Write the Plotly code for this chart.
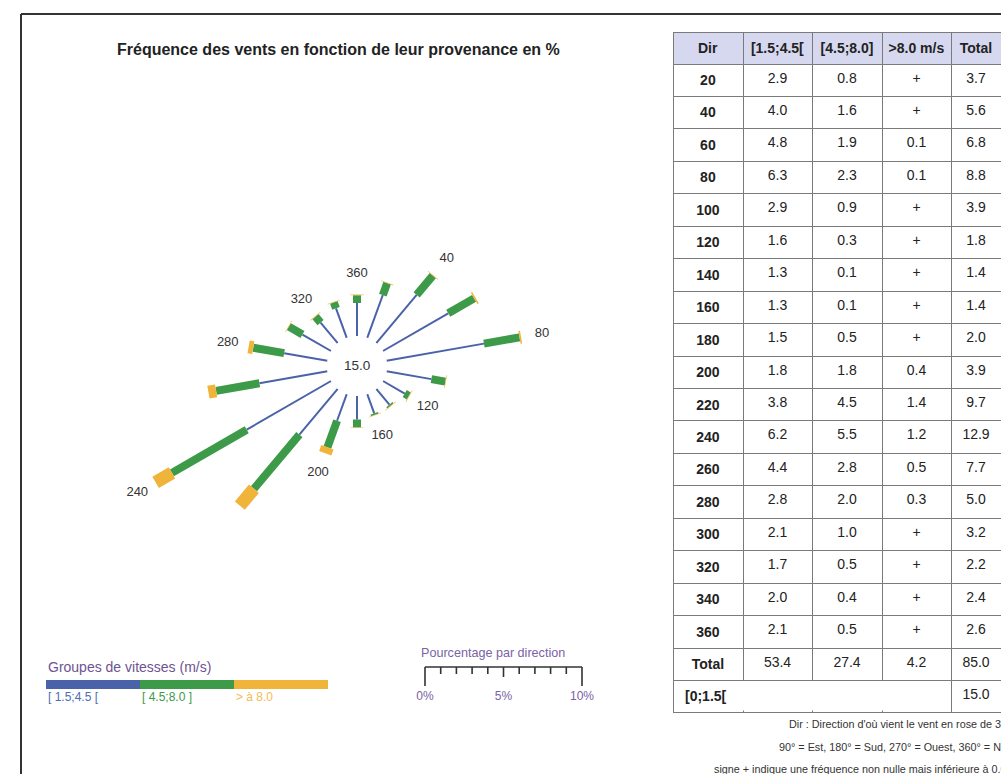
import plotly.graph_objects as go

# ---------------- data ----------------
directions = [20, 40, 60, 80, 100, 120, 140, 160, 180,
              200, 220, 240, 260, 280, 300, 320, 340, 360]
freq_low = [2.9, 4.0, 4.8, 6.3, 2.9, 1.6, 1.3, 1.3, 1.5,
            1.8, 3.8, 6.2, 4.4, 2.8, 2.1, 1.7, 2.0, 2.1]
freq_mid = [0.8, 1.6, 1.9, 2.3, 0.9, 0.3, 0.1, 0.1, 0.5,
            1.8, 4.5, 5.5, 2.8, 2.0, 1.0, 0.5, 0.4, 0.5]
freq_high = ["+", "+", "0.1", "0.1", "+", "+", "+", "+", "+",
             "0.4", "1.4", "1.2", "0.5", "0.3", "+", "+", "+", "+"]
freq_total = [3.7, 5.6, 6.8, 8.8, 3.9, 1.8, 1.4, 1.4, 2.0,
              3.9, 9.7, 12.9, 7.7, 5.0, 3.2, 2.2, 2.4, 2.6]
class_totals = ["53.4", "27.4", "4.2", "85.0"]
calm_label = "[0;1.5["
calm_value = 15.0

labelled_dirs = [40, 80, 120, 160, 200, 240, 280, 320, 360]
table_header = ["Dir", "[1.5;4.5[", "[4.5;8.0]", ">8.0 m/s", "Total"]
speed_classes = ["[ 1.5;4.5 [", "[ 4.5;8.0 ]", "> à 8.0"]
scale_ticks = [0, 5, 10]
notes = [
    "Dir : Direction d'où vient le vent en rose de 360°",
    "90° = Est, 180° = Sud, 270° = Ouest, 360° = Nord",
    "signe + indique une fréquence non nulle mais inférieure à 0.05 %",
]

title = "Fréquence des vents en fonction de leur provenance en %"
legend_title = "Groupes de vitesses (m/s)"
scale_title = "Pourcentage par direction"

# "+" = non-zero but below 0.05 %: drawn as a very short cap
PLUS_VALUE = 0.04

# ---------------- styling / geometry ----------------
W, H = 1001, 774
FONT = "Liberation Sans, Arial, sans-serif"
BLUE, GREEN, ORANGE = "#4a62a8", "#3c9a48", "#f1b43a"
PURPLE = "#6d5391"

CX, CY = 357, 366          # rose centre (px)
R_PX = 300                 # polar radius (px)
HOLE_PX = 30               # empty centre (px)
PX_PER_PCT = 15.7          # length of 1 % on the rose
HOLE = HOLE_PX / R_PX
RMAX = (R_PX - HOLE_PX) / PX_PER_PCT
LABEL_GAP = 1.35           # % beyond spoke end for direction labels


def px(x):
    return x / W


def py(y):
    return 1 - y / H


high_num = [PLUS_VALUE if v == "+" else float(v) for v in freq_high]
end_low = freq_low
end_mid = [a + b for a, b in zip(freq_low, freq_mid)]
end_high = [a + b for a, b in zip(end_mid, high_num)]


def spoke_trace(starts, ends, color, width):
    r, th = [], []
    for d, a, b in zip(directions, starts, ends):
        if b > a:
            r += [a, b, None]
            th += [d, d, None]
    return go.Scatterpolar(r=r, theta=th, mode="lines", connectgaps=False,
                           line=dict(color=color, width=width),
                           hoverinfo="skip", showlegend=False)


fig = go.Figure()
fig.add_trace(spoke_trace([0] * len(directions), end_low, BLUE, 2))
fig.add_trace(spoke_trace(end_low, end_mid, GREEN, 8))
fig.add_trace(spoke_trace(end_mid, end_high, ORANGE, 13))

lab_r = [end_high[directions.index(d)] + LABEL_GAP for d in labelled_dirs]
fig.add_trace(go.Scatterpolar(
    r=lab_r, theta=labelled_dirs, mode="text", text=[str(d) for d in labelled_dirs],
    textfont=dict(family=FONT, size=13, color="#333333"),
    cliponaxis=False, hoverinfo="skip", showlegend=False))

# ---------------- percentage scale (0-10 %) ----------------
SCALE_X0 = 425
scale_x, scale_y = [0, 10, None], [0, 0, None]
for i in range(11):
    depth = 19 if i in (0, 10) else (10 if i == 5 else 7)
    scale_x += [i, i, None]
    scale_y += [0, -depth, None]
fig.add_trace(go.Scatter(x=scale_x, y=scale_y, mode="lines", xaxis="x", yaxis="y",
                         line=dict(color="#333333", width=1.6),
                         hoverinfo="skip", showlegend=False))
fig.add_trace(go.Scatter(x=scale_ticks, y=[-30] * len(scale_ticks), mode="text",
                         text=[f"{t}%" for t in scale_ticks], xaxis="x", yaxis="y",
                         textfont=dict(family=FONT, size=12, color="#7a62a3"),
                         cliponaxis=False, hoverinfo="skip", showlegend=False))

# ---------------- table ----------------
TABLE_X0 = 673
COL_W = [70, 69, 70, 69, 50]
TABLE_Y0 = 32
HEADER_H = 31
ROW_H = 32.45
n_rows = len(directions) + 2

col_dir = [f"<b>{d}</b>" for d in directions] + ["<b>Total</b>", ""]
col_low = [f"{v:.1f}" for v in freq_low] + [class_totals[0], ""]
col_mid = [f"{v:.1f}" for v in freq_mid] + [class_totals[1], ""]
col_high = list(freq_high) + [class_totals[2], ""]
col_tot = [f"{v:.1f}" for v in freq_total] + [class_totals[3], f"{calm_value:.1f}"]

fig.add_trace(go.Table(
    domain=dict(x=[px(TABLE_X0), 1], y=[py(760), py(TABLE_Y0)]),
    columnwidth=COL_W,
    header=dict(values=["<b>" + h.replace(" ", "\u00a0") + "</b>" for h in table_header],
                fill_color="#d5d8ef", line=dict(color="#7a7a7a", width=1),
                align="center", height=HEADER_H,
                font=dict(family=FONT, size=14, color="#222222")),
    cells=dict(values=[col_dir, col_low, col_mid, col_high, col_tot],
               fill_color="white", line=dict(color="#7a7a7a", width=1),
               align="center", height=ROW_H,
               font=dict(family=FONT, size=14, color="#222222")),
))

shapes = []
annotations = []

# merged cell for the calm row
calm_top = TABLE_Y0 + HEADER_H + ROW_H * (n_rows - 1)
shapes.append(dict(type="rect", xref="paper", yref="paper", layer="above",
                   x0=px(TABLE_X0 + 1.5), x1=px(TABLE_X0 + sum(COL_W[:4]) - 1.5),
                   y0=py(calm_top + ROW_H - 1.5), y1=py(calm_top + 1.5),
                   fillcolor="white", line=dict(width=0)))
annotations.append(dict(x=px(TABLE_X0 + 10), y=py(calm_top + ROW_H / 2), xref="paper",
                        yref="paper", xanchor="left", yanchor="middle", showarrow=False,
                        text=f"<b>{calm_label}</b>",
                        font=dict(family=FONT, size=14, color="#222222")))

# notes under the table
for i, (txt, x0) in enumerate(zip(notes, [787, 777, 712])):
    annotations.append(dict(x=px(x0), y=py(724 + 22.5 * i), xref="paper", yref="paper",
                            xanchor="left", yanchor="middle", showarrow=False, text=txt,
                            font=dict(family=FONT, size=10.8, color="#333333")))

# frame lines
shapes.append(dict(type="line", xref="paper", yref="paper", x0=px(21), x1=1.0,
                   y0=py(14), y1=py(14), line=dict(color="#333333", width=2)))
shapes.append(dict(type="line", xref="paper", yref="paper", x0=px(21), x1=px(21),
                   y0=py(14), y1=0, line=dict(color="#333333", width=2)))

# speed class colour bar
BAR_X0, BAR_W, BAR_Y0, BAR_Y1 = 46, 94, 680, 689
for i, (col, lab, lab_col) in enumerate(zip([BLUE, GREEN, ORANGE], speed_classes,
                                            ["#4a6eb0", "#3c9a48", "#f0bc55"])):
    shapes.append(dict(type="rect", xref="paper", yref="paper",
                       x0=px(BAR_X0 + i * BAR_W), x1=px(BAR_X0 + (i + 1) * BAR_W),
                       y0=py(BAR_Y1), y1=py(BAR_Y0), fillcolor=col, line=dict(width=0)))
    annotations.append(dict(x=px(BAR_X0 + i * BAR_W), y=py(697), xref="paper", yref="paper",
                            xanchor="left", yanchor="middle", showarrow=False, text=lab,
                            font=dict(family=FONT, size=12, color=lab_col)))

annotations += [
    dict(x=px(338), y=py(49), xref="paper", yref="paper", showarrow=False,
         xanchor="center", yanchor="middle", text=f"<b>{title}</b>",
         font=dict(family=FONT, size=16, color="#222222")),
    dict(x=px(CX), y=py(CY), xref="paper", yref="paper", showarrow=False,
         xanchor="center", yanchor="middle", text=f"{calm_value:.1f}",
         font=dict(family=FONT, size=13.5, color="#333333")),
    dict(x=px(46), y=py(667), xref="paper", yref="paper", showarrow=False,
         xanchor="left", yanchor="middle", text=legend_title,
         font=dict(family=FONT, size=14, color=PURPLE)),
    dict(x=px(419), y=py(653), xref="paper", yref="paper", showarrow=False,
         xanchor="left", yanchor="middle", text=scale_title,
         font=dict(family=FONT, size=12.6, color="#7a62a3")),
]

fig.update_layout(
    width=W, height=H, margin=dict(l=0, r=0, t=0, b=0),
    paper_bgcolor="white", plot_bgcolor="rgba(0,0,0,0)", showlegend=False,
    polar=dict(
        domain=dict(x=[px(CX - R_PX), px(CX + R_PX)], y=[py(CY + R_PX), py(CY - R_PX)]),
        hole=HOLE, bgcolor="rgba(0,0,0,0)",
        radialaxis=dict(range=[0, RMAX], visible=False),
        angularaxis=dict(direction="clockwise", rotation=90, visible=False),
    ),
    xaxis=dict(domain=[px(SCALE_X0 - 0.5 * PX_PER_PCT), px(SCALE_X0 + 10.5 * PX_PER_PCT)],
               range=[-0.5, 10.5], visible=False, fixedrange=True),
    yaxis=dict(domain=[py(702), py(662)], range=[-35, 5], visible=False, fixedrange=True),
    shapes=shapes, annotations=annotations,
)

fig.write_html("out.html")
